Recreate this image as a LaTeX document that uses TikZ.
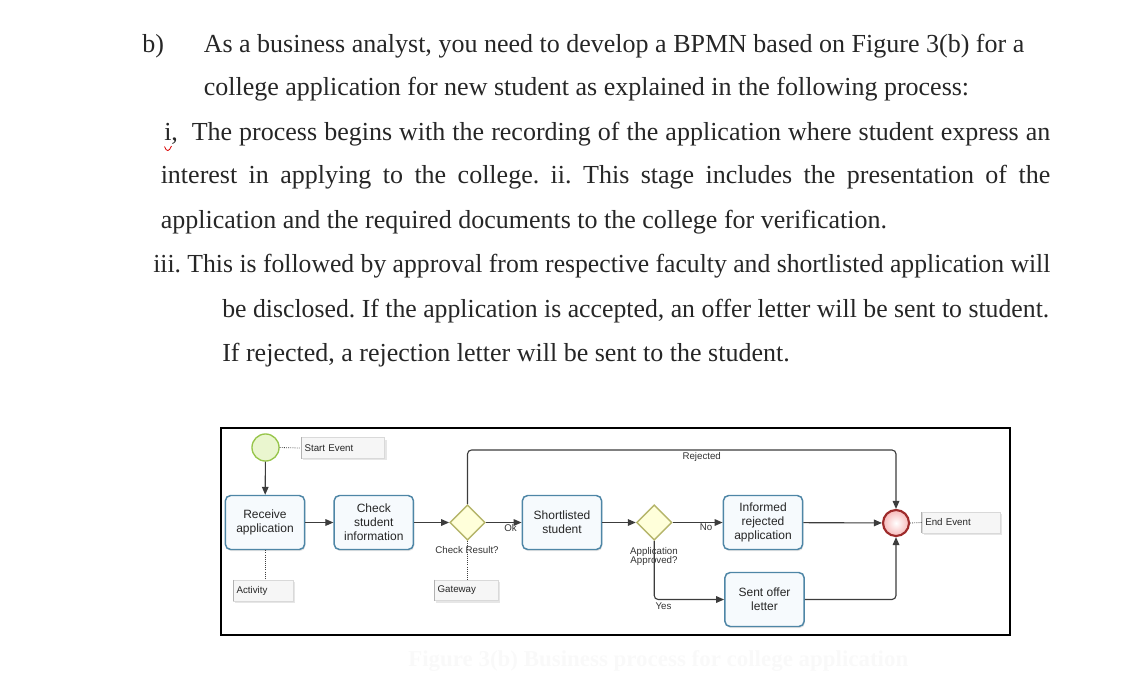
\documentclass[tikz,border=0pt]{standalone}
\usepackage{fontspec}
\usepackage{graphicx}
\setmainfont{Liberation Serif}
\newfontfamily\dsans{Liberation Sans}
\usetikzlibrary{arrows.meta,shadows,shapes.geometric}
\frenchspacing
\newcommand\jline[2]{\sbox0{#2}\ifdim\wd0>#1\relax\resizebox{#1}{\ht0}{\usebox0}\else\makebox[#1][s]{#2}\fi}
\definecolor{txt}{HTML}{262626}
\definecolor{actb}{HTML}{4E86A6}
\definecolor{actf}{HTML}{F6FAFD}
\definecolor{gwb}{HTML}{B5B56A}
\definecolor{gwf}{HTML}{FFFFDA}
\definecolor{stb}{HTML}{97C54A}
\definecolor{stf}{HTML}{EAF6CF}
\definecolor{enb}{HTML}{9E2B2B}
\definecolor{enf}{HTML}{F4DEDE}
\definecolor{flowc}{HTML}{3C3C3C}
\tikzset{
  para/.style={anchor=base west, inner sep=0, font=\fontsize{19.5}{23}\selectfont, text=txt},
  act/.style={draw=actb, line width=1.1pt, rounded corners=4pt, fill=actf,
    minimum width=59.5pt, minimum height=40.5pt, align=center, inner sep=1pt,
    font=\dsans\fontsize{9}{10.4}\selectfont, text=black!85,
    drop shadow={shadow xshift=0.6pt, shadow yshift=-1.2pt, opacity=0.22}},
  gway/.style={diamond, draw=gwb, line width=1.1pt, fill=gwf, minimum width=26.5pt, minimum height=26.5pt, inner sep=0},
  anno/.style={anchor=west, fill=gray!7, draw=gray!30, line width=0.4pt, inner xsep=2.5pt, inner ysep=0pt,
    minimum height=15.6pt, align=left, font=\dsans\fontsize{7.3}{8.5}\selectfont, text=black!85,
    drop shadow={shadow xshift=1.5pt, shadow yshift=-1.5pt, opacity=0.2}},
  lbl/.style={inner sep=0, font=\dsans\fontsize{7.3}{7}\selectfont, text=black!80, align=center},
  flow/.style={draw=flowc, line width=0.85pt, -{Triangle[length=6pt,width=5pt]}},
  dotline/.style={densely dotted, draw=gray!50!black, line width=0.6pt},
}
\begin{document}
\begin{tikzpicture}[x=0.75pt,y=-0.75pt]
\useasboundingbox (0,0) rectangle (1138,672);
% ---------- text ----------
\node[para] (l1b) at (142,52.5) {b)};
\node[para] (l1) at (203.5,52.5) {\jline{615.4pt}{As a business analyst, you need to develop a BPMN based on Figure 3(b) for a}};
\node[para] (l2) at (203.5,95.5) {college application for new student as explained in the following process:};
\node[para] (l3a) at (164,140.3) {i,};
\node[para] (l3) at (191.5,140.3) {\jline{643.9pt}{The process begins with the recording of the application where student express an}};
\node[para] (l4) at (160.5,183.7) {\jline{667.1pt}{interest in applying to the college. ii. This stage includes the presentation of the}};
\node[para] (l5) at (160.5,228.5) {application and the required documents to the college for verification.};
\node[para] (l6) at (153,272.7) {\jline{672.75pt}{iii. This is followed by approval from respective faculty and shortlisted application will}};
\node[para] (l7) at (222,317) {\jline{620.25pt}{be disclosed. If the application is accepted, an offer letter will be sent to student.}};
\node[para] (l8) at (222,361.3) {If rejected, a rejection letter will be sent to the student.};
\draw[red!85!black, line width=0.6pt] (164.5,146.5) .. controls (166.5,152) and (169,152) .. (171.5,146);
% ---------- frame ----------
\draw[line width=1.5pt] (221,428) rectangle (1009.5,635);
% ---------- diagram nodes ----------
\node[circle, draw=stb, line width=1pt, fill=stf, minimum size=20.3pt, inner sep=0] (start) at (265.5,447.5) {};
\node[anno, text width=57.5pt] (sa) at (301,448) {Start Event};
\node[act] (rec) at (265,522.5) {Receive\\application};
\node[act] (chk) at (373.8,522.5) {Check\\student\\information};
\node[gway] (gw1) at (467.5,522.5) {};
\node[act] (sl) at (562,522.5) {Shortlisted\\student};
\node[gway] (gw2) at (654.2,522.5) {};
\node[act] (inf) at (763,522.5) {Informed\\rejected\\application};
\node[act] (sent) at (764.5,599.5) {Sent offer\\letter};
\node[circle, draw=enb, line width=1.6pt, inner color=white, outer color=enf!80!red!90, minimum size=19.5pt, inner sep=0] (end) at (896,523) {};
\node[anno, text width=53.5pt] (ea) at (921.7,522.5) {End Event};
\node[anno, text width=40pt] (aa) at (233,590.5) {Activity};
\node[anno, text width=43pt] (ga) at (434,590.3) {Gateway};
\draw[gray!60, line width=0.6pt] (sa.north west) -- (sa.south west);
\draw[gray!60, line width=0.6pt] (ea.north west) -- (ea.south west);
\draw[gray!60, line width=0.6pt] (aa.north west) -- (aa.south west);
\draw[gray!60, line width=0.6pt] (ga.north west) -- (ga.south west);
% labels
\node[lbl] (lcr) at (467,550.5) {Check Result?};
\node[lbl] (lap) at (654,556.5) {Application\\[-0.5pt]Approved?};
\node[lbl] (lok) at (510.5,528.5) {Ok};
\node[lbl] (lno) at (706,527.5) {No};
\node[lbl] (lyes) at (663.5,606.5) {Yes};
\node[lbl] (lrej) at (701.7,457.3) {Rejected};
% ---------- connectors ----------
\coordinate (topy) at (0,450);
\draw[dotline] (start.east) -- (sa.west);
\draw[dotline] (end.east) -- (ea.west);
\draw[dotline] (rec.south) -- (rec.south |- aa.north);
\draw[dotline] (gw1.south) -- (gw1.south |- ga.north);
\draw[flow] (start) -- (rec);
\draw[flow] (rec) -- (chk);
\draw[flow] (chk) -- (gw1);
\draw[flow] (gw1) -- (sl);
\draw[flow] (sl) -- (gw2);
\draw[flow] (gw2) -- (inf);
\draw[flow] (inf) -- (end);
\draw[flow, rounded corners=3pt] (gw1.north) -- (gw1.north |- topy) -- (end.north |- topy) -- (end.north);
\draw[flow, rounded corners=3pt] (gw2.south) |- (sent.west);
\draw[flow, rounded corners=3pt] (sent.east) -| (end.south);
% ---------- faint caption ----------
\node[anchor=base west, inner sep=0, text=gray!5] (cap) at (408,666) {\resizebox{375pt}{12pt}{\bfseries Figure 3(b) Business process for college application}};
\end{tikzpicture}
\end{document}
